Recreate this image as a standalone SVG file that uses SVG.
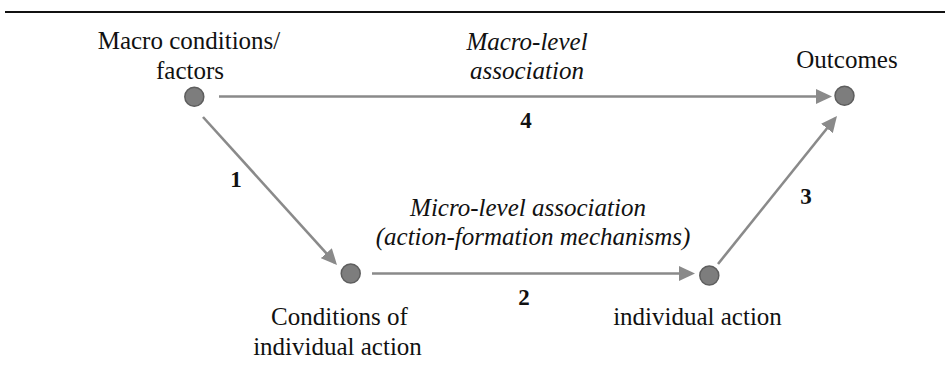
<svg xmlns="http://www.w3.org/2000/svg" width="945" height="368" viewBox="0 0 945 368">
<style>
  text { font-family: "Liberation Serif", "Times New Roman", serif; font-size: 25px; fill: #111; text-anchor: middle; }
  .it { font-style: italic; }
  .num { font-weight: bold; font-size: 23px; }
  .node circle { fill: #7d7d7d; stroke: #5e5e5e; stroke-width: 1.5; }
  .conn line { stroke: #8a8a8a; stroke-width: 2.6; fill: none; marker-end: url(#arr); }
</style>
<defs>
  <marker id="arr" markerUnits="userSpaceOnUse" markerWidth="17" markerHeight="15" refX="13" refY="7.5" orient="auto">
    <path d="M0,0 L16,7.5 L0,15 z" fill="#8a8a8a"/>
  </marker>
</defs>
<rect width="945" height="368" fill="#fff"/>
<line x1="5" y1="12" x2="945" y2="12" stroke="#111" stroke-width="2"/>

<g id="connectors" class="conn">
  <line x1="219" y1="96.5" x2="829" y2="96.5"/>
  <line x1="203" y1="117" x2="335" y2="262.8"/>
  <line x1="372" y1="273.5" x2="692" y2="273.5"/>
  <line x1="718" y1="264" x2="835.1" y2="118.3"/>
</g>

<g id="labels">
  <text class="it" x="527" y="50">Macro-level</text>
  <text class="it" x="527" y="79">association</text>
  <text class="num" x="526" y="128">4</text>
  <text class="num" x="236" y="187">1</text>
  <text class="num" x="806" y="204">3</text>
  <text class="num" x="524" y="305">2</text>
  <text class="it" x="528" y="216">Micro-level association</text>
  <text class="it" x="533" y="245">(action-formation mechanisms)</text>
</g>

<g id="node-macro" class="node">
  <circle cx="194.3" cy="96.7" r="9.5"/>
  <text x="189" y="49">Macro conditions/</text>
  <text x="190" y="79">factors</text>
</g>
<g id="node-outcomes" class="node">
  <circle cx="844.5" cy="95.8" r="9.5"/>
  <text x="847" y="68">Outcomes</text>
</g>
<g id="node-conditions" class="node">
  <circle cx="350.7" cy="273.5" r="9.5"/>
  <text x="339.5" y="325">Conditions of</text>
  <text x="337.5" y="355">individual action</text>
</g>
<g id="node-action" class="node">
  <circle cx="709.3" cy="275.5" r="9.5"/>
  <text x="697.5" y="325">individual action</text>
</g>
</svg>
